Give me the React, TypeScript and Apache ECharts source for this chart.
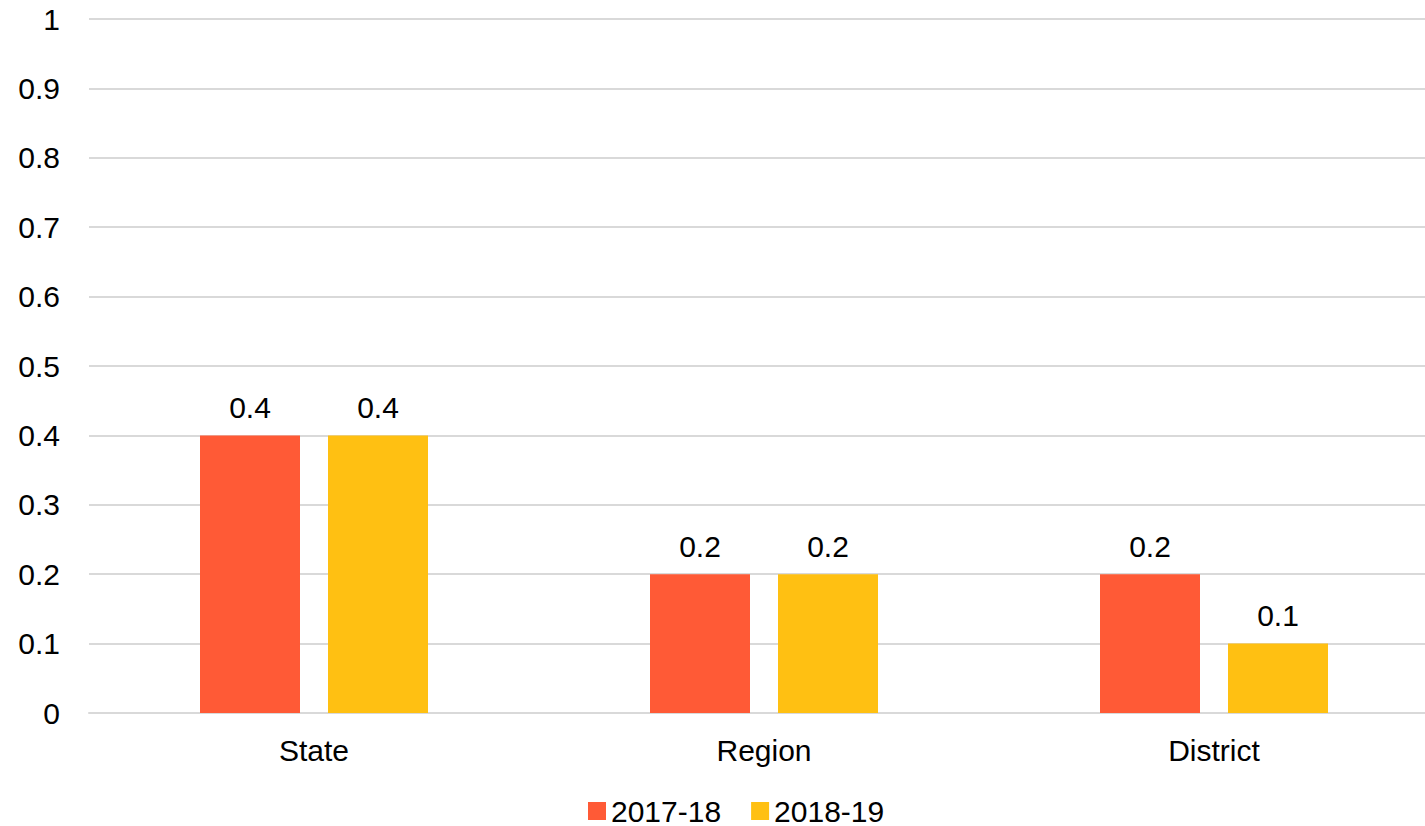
import React, { useEffect, useRef } from "react";
import * as echarts from "echarts";

const categories = ["State", "Region", "District"];
const series1817 = [0.4, 0.2, 0.2];
const series1819 = [0.4, 0.2, 0.1];
const seriesNames = ["2017-18", "2018-19"];
const colors = ["#FF5A36", "#FFC012"];

export default function App() {
  const ref = useRef<HTMLDivElement>(null);
  useEffect(() => {
    const chart = echarts.init(ref.current!, null, { renderer: "svg" });
    const font = "Liberation Sans, Arial, sans-serif";
    chart.setOption({
      animation: false,
      textStyle: { fontFamily: font },
      grid: { left: 89, right: 1, top: 19, bottom: 113, containLabel: false },
      legend: {
        top: 791,
        left: 583,
        itemWidth: 18,
        itemHeight: 18,
        itemGap: 30,
        icon: "rect",
        textStyle: { fontSize: 30, color: "#000", fontFamily: font },
        data: seriesNames,
      },
      xAxis: {
        type: "category",
        data: categories,
        axisLine: { lineStyle: { color: "#D9D9D9", width: 2 } },
        axisTick: { show: false },
        axisLabel: { fontSize: 30, color: "#000", margin: 22, fontFamily: font },
      },
      yAxis: {
        type: "value",
        min: 0,
        max: 1,
        interval: 0.1,
        axisLine: { show: false },
        axisTick: { show: false },
        splitLine: { lineStyle: { color: "#D9D9D9", width: 2 } },
        axisLabel: {
          fontSize: 30,
          color: "#000",
          margin: 29,
          fontFamily: font,
          formatter: (v: number) => String(Math.round(v * 10) / 10),
        },
      },
      series: [series1817, series1819].map((d, i) => ({
        name: seriesNames[i],
        type: "bar",
        data: d,
        barWidth: 100,
        barGap: "28%",
        itemStyle: { color: colors[i] },
        label: {
          show: true,
          position: "top",
          distance: 13,
          fontSize: 30,
          color: "#000",
          fontFamily: font,
        },
      })),
    });
    return () => chart.dispose();
  }, []);
  return (
    <div
      style={{ position: "fixed", left: 0, top: 0, width: 1425, height: 826, overflow: "hidden", background: "#fff" }}
    >
      <div ref={ref} style={{ width: 1440, height: 826 }} />
    </div>
  );
}
